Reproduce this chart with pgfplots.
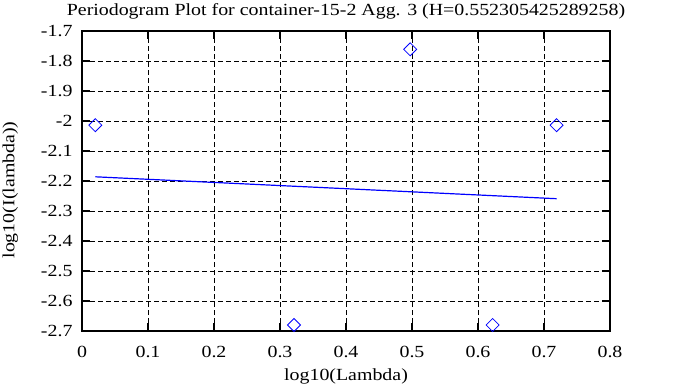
\documentclass[border=0pt]{standalone}
\usepackage{pgfplots}
\pgfplotsset{compat=1.18}
\usepackage{fontspec}
\setmainfont[FakeStretch=1.17]{Liberation Serif}
\newcommand{\reffont}{\fontsize{17bp}{19bp}\selectfont}
\begin{document}
\begin{tikzpicture}[x=1bp,y=1bp]
\useasboundingbox (0,0) rectangle (673,387);
\node[font=\reffont, anchor=base, inner sep=0pt] at (346,372) {Periodogram Plot for container-15-2 Agg. 3 (H=0.552305425289258)};
\begin{axis}[
  at={(82bp,56bp)}, anchor=south west,
  width=528bp, height=300bp, scale only axis,
  xmin=0, xmax=0.8, ymin=-2.7, ymax=-1.7,
  xtick={0,0.1,0.2,0.3,0.4,0.5,0.6,0.7,0.8},
  xticklabels={0,0.1,0.2,0.3,0.4,0.5,0.6,0.7,0.8},
  ytick={-2.7,-2.6,-2.5,-2.4,-2.3,-2.2,-2.1,-2,-1.9,-1.8,-1.7},
  yticklabels={-2.7,-2.6,-2.5,-2.4,-2.3,-2.2,-2.1,-2,-1.9,-1.8,-1.7},
  tick label style={font=\reffont},
  label style={font=\reffont},
  xlabel={log10(Lambda)}, ylabel={log10(I(lambda))},
  xlabel style={at={(axis description cs:0.5,-0.15)}, anchor=center},
  ylabel style={at={(axis description cs:-0.136,0.47)}, anchor=center, rotate=0},
  grid=major,
  major grid style={black, line width=0.8bp, dash pattern=on 5bp off 3bp},
  axis line style={black, line width=2bp},
  tick style={black, line width=1.3bp},
  tick align=inside, major tick length=8bp,
  xtick pos=both, ytick pos=both,
  xticklabel style={anchor=center, yshift=-21bp},
  yticklabel style={anchor=east, xshift=-6bp},
]
\addplot[only marks, blue, mark=square, mark size=4.6bp, mark options={rotate=45, line width=0.8bp, fill=none}]
coordinates {
 (0.0202,-2.014) (0.3212,-2.680) (0.4973,-1.761) (0.6222,-2.680) (0.7191,-2.014)
};
\addplot[blue, line width=1.2bp, no marks] coordinates {
 (0.0202,-2.186) (0.7191,-2.259)
};
\end{axis}
\end{tikzpicture}
\end{document}
